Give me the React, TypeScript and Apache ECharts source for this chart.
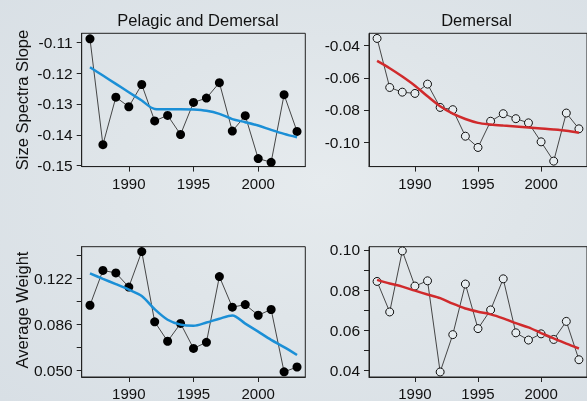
import React, { useEffect, useRef } from "react";
import * as echarts from "echarts";

const years = [1987, 1988, 1989, 1990, 1991, 1992, 1993, 1994, 1995, 1996, 1997, 1998, 1999, 2000, 2001, 2002, 2003];

const slopeAll = [-0.1089, -0.1432, -0.1278, -0.1309, -0.1237, -0.1355, -0.1337, -0.1399, -0.1295, -0.1281, -0.1231, -0.1388, -0.1338, -0.1477, -0.1489, -0.127, -0.1389];
const slopeAllSmooth = [-0.1181, -0.1208, -0.1235, -0.1262, -0.1289, -0.1316, -0.1317, -0.1317, -0.1318, -0.1322, -0.1332, -0.1349, -0.1359, -0.137, -0.1384, -0.1397, -0.1408];

const slopeDem = [-0.0355, -0.066, -0.0689, -0.0697, -0.0639, -0.0784, -0.0798, -0.0963, -0.1033, -0.087, -0.0823, -0.0854, -0.088, -0.0998, -0.1118, -0.0819, -0.0917];
const slopeDemSmooth = [-0.0495, -0.054, -0.0592, -0.0649, -0.0715, -0.0777, -0.0823, -0.0856, -0.088, -0.089, -0.0897, -0.0903, -0.0909, -0.0915, -0.0921, -0.0929, -0.0942];

const weightAll = [0.1009, 0.1281, 0.1261, 0.1151, 0.1428, 0.088, 0.0728, 0.0867, 0.0672, 0.072, 0.1233, 0.0994, 0.1014, 0.0931, 0.0976, 0.0489, 0.0527];
const weightAllSmooth = [0.1258, 0.1215, 0.1174, 0.1131, 0.1081, 0.0978, 0.0896, 0.0858, 0.0849, 0.0874, 0.0904, 0.0929, 0.0866, 0.0803, 0.0739, 0.0682, 0.0621];

const weightDem = [0.0843, 0.0691, 0.0995, 0.082, 0.0846, 0.0392, 0.0578, 0.083, 0.0608, 0.0701, 0.0856, 0.0587, 0.0551, 0.0582, 0.0554, 0.0644, 0.0453];
const weightDemSmooth = [0.0851, 0.0833, 0.0817, 0.0797, 0.0778, 0.076, 0.0732, 0.0708, 0.0692, 0.0679, 0.0659, 0.0635, 0.0614, 0.0586, 0.0559, 0.0533, 0.0509];

const xTicks = [1990, 1995, 2000];
const yTicksTL = [-0.15, -0.14, -0.13, -0.12, -0.11];
const yTicksTR = [-0.1, -0.08, -0.06, -0.04];
const yTicksBL = [0.05, 0.068, 0.086, 0.104, 0.122, 0.14];
const yLabelsBL = [0.05, 0.086, 0.122];
const yTicksBR = [0.04, 0.05, 0.06, 0.07, 0.08, 0.09, 0.1];
const yLabelsBR = [0.04, 0.06, 0.08, 0.1];

const titleTop = "Pelagic and Demersal";
const titleRight = "Demersal";
const yTitleTop = "Size Spectra Slope";
const yTitleBottom = "Average Weight";

const FONT = '"Liberation Sans", Arial, Helvetica, sans-serif';

export default function App() {
  const ref = useRef<HTMLDivElement>(null);

  useEffect(() => {
    if (!ref.current) return;
    const chart = echarts.init(ref.current, undefined, { renderer: "svg" });

    const grids = [
      { left: 81.7, top: 33.3, width: 223.6, height: 133.3 },
      { left: 369, top: 33.3, width: 223.6, height: 133.3 },
      { left: 81.7, top: 246.7, width: 223.6, height: 133.3 },
      { left: 369, top: 246.7, width: 223.6, height: 133.3 },
    ].map((g) => ({ ...g, show: true, borderColor: "#222", borderWidth: 1, backgroundColor: "transparent", containLabel: false }));

    const xAxes = [0, 1, 2, 3].map((i) => ({
      type: "value",
      gridIndex: i,
      min: 1986.36,
      max: 2003.64,
      axisLine: { show: true, onZero: false, lineStyle: { color: "#222", width: 1 } },
      axisTick: { show: true, inside: false, length: 5, customValues: xTicks, lineStyle: { color: "#222" } },
      axisLabel: {
        show: true,
        customValues: xTicks,
        margin: 9,
        fontSize: 15,
        color: "#111",
        fontFamily: FONT,
        formatter: (v: number) => String(Math.round(v)),
      },
      splitLine: { show: false },
    }));

    const yDefs = [
      { min: -0.1503, max: -0.1071, ticks: yTicksTL, labels: yTicksTL, dec: 2 },
      { min: -0.1152, max: -0.0323, ticks: yTicksTR, labels: yTicksTR, dec: 2 },
      { min: 0.0449, max: 0.1466, ticks: yTicksBL, labels: yLabelsBL, dec: 3 },
      { min: 0.0367, max: 0.1016, ticks: yTicksBR, labels: yLabelsBR, dec: 2 },
    ];

    const yAxes = yDefs.map((d, i) => ({
      type: "value",
      gridIndex: i,
      min: d.min,
      max: d.max,
      axisLine: { show: true, onZero: false, lineStyle: { color: "#222", width: 1 } },
      axisTick: { show: true, inside: false, length: 5, customValues: d.ticks, lineStyle: { color: "#222" } },
      axisLabel: {
        show: true,
        customValues: d.labels,
        margin: 9,
        fontSize: 15.5,
        color: "#111",
        fontFamily: FONT,
        formatter: (v: number) => v.toFixed(d.dec),
      },
      splitLine: { show: false },
    }));

    const panels = [
      { data: slopeAll, smooth: slopeAllSmooth, open: false, color: "#1b8fd6" },
      { data: slopeDem, smooth: slopeDemSmooth, open: true, color: "#d02a2c" },
      { data: weightAll, smooth: weightAllSmooth, open: false, color: "#1b8fd6" },
      { data: weightDem, smooth: weightDemSmooth, open: true, color: "#d02a2c" },
    ];

    const series: any[] = [];
    panels.forEach((p, i) => {
      series.push({
        type: "line",
        xAxisIndex: i,
        yAxisIndex: i,
        data: years.map((y, k) => [y, p.data[k]]),
        symbol: "circle",
        symbolSize: p.open ? 8 : 9,
        showSymbol: true,
        clip: false,
        itemStyle: p.open
          ? { color: "#e6ecef", borderColor: "#111", borderWidth: 1 }
          : { color: "#000", borderColor: "#000", borderWidth: 0 },
        lineStyle: { color: "#333", width: 0.9 },
        z: 2,
      });
      series.push({
        type: "line",
        xAxisIndex: i,
        yAxisIndex: i,
        data: years.map((y, k) => [y, p.smooth[k]]),
        symbol: "none",
        smooth: 0.3,
        clip: false,
        lineStyle: { color: p.color, width: 2.5 },
        z: 3,
      });
    });

    const textStyle = (text: string) => ({
      text,
      textAlign: "center",
      textVerticalAlign: "middle",
      font: `16.5px ${FONT}`,
      fill: "#111",
    });

    chart.setOption({
      animation: false,
      backgroundColor: "transparent",
      grid: grids,
      xAxis: xAxes,
      yAxis: yAxes,
      series,
      graphic: [
        { type: "text", x: 198, y: 20, style: textStyle(titleTop) },
        { type: "text", x: 476.5, y: 20, style: textStyle(titleRight) },
        { type: "text", x: 21.7, y: 100, rotation: Math.PI / 2, style: textStyle(yTitleTop) },
        { type: "text", x: 21.7, y: 310, rotation: Math.PI / 2, style: textStyle(yTitleBottom) },
      ],
    });

    return () => {
      chart.dispose();
    };
  }, []);

  return (
    <div
      style={{
        position: "fixed",
        left: 0,
        top: 0,
        width: 587,
        height: 401,
        overflow: "hidden",
        background:
          "radial-gradient(ellipse at 55% 45%, #e6ebee 0%, #dfe5e9 45%, #d8dfe5 100%)",
      }}
    >
      <div ref={ref} style={{ width: 587, height: 401 }} />
    </div>
  );
}
